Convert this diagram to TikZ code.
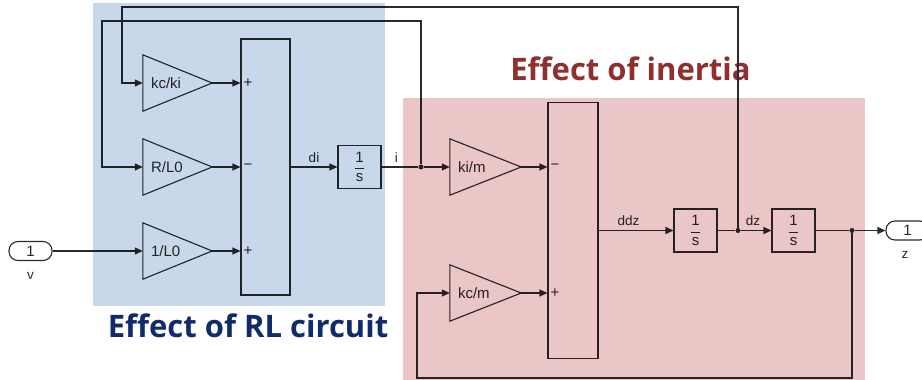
\documentclass[tikz,border=0pt]{standalone}
\usepackage{fontspec}
\setmainfont{Liberation Sans}
\newfontfamily\titlefont{Open Sans}
\usetikzlibrary{arrows.meta}
\definecolor{wirecol}{HTML}{2A2A2A}
\definecolor{bluefill}{HTML}{C8D8EA}
\definecolor{pinkfill}{HTML}{EAC6C6}
\definecolor{navytitle}{HTML}{102A6A}
\definecolor{redtitle}{HTML}{8F2F2F}
\newcommand{\oneovers}{$\displaystyle\frac{\hbox{1}\rule[-3pt]{0pt}{3pt}}{\hbox{\rule{0pt}{11pt}s}}$}
\begin{document}
\begin{tikzpicture}[x=1pt,y=-1pt,
  wire/.style={line width=1.1pt, draw=wirecol},
  sig/.style={wire,-{Triangle[length=8pt,width=7pt]}},
  smallfont/.style={font=\fontsize{13.5}{15}\selectfont, text=wirecol},
  blockfont/.style={font=\fontsize{15}{17}\selectfont, text=wirecol},
  gainbox/.style={blockfont,minimum width=69pt,minimum height=56pt,inner sep=0pt,text width=53pt,align=left},
  sumbox/.style={draw=wirecol,line width=1.1pt,minimum width=49pt,minimum height=256pt,inner sep=0pt},
  intbox/.style={draw=wirecol,line width=1.1pt,minimum width=43pt,minimum height=43pt,inner sep=0pt,blockfont},
  portbox/.style={draw=wirecol,line width=1.1pt,rounded corners=9pt,minimum width=43pt,minimum height=19pt,inner sep=0pt,blockfont},
  jdot/.style={circle,fill=wirecol,inner sep=0pt,minimum size=5pt},
  lab/.style={smallfont,inner sep=0pt},
  sign/.style={blockfont,inner sep=0pt},
  title/.style={font=\titlefont\bfseries\fontsize{31}{36}\selectfont,inner sep=0pt,anchor=base},
  region/.style={blend mode=multiply}
]
\useasboundingbox (0,0) rectangle (922,380);
\clip (0,0) rectangle (922,380);
\fill[white] (0,0) rectangle (922,380);

% titles
\node[title,text=navytitle] (trl) at (248,337) {Effect of RL circuit};
\node[title,text=redtitle] (tin) at (630.5,80) {Effect of inertia};

% blocks
\node[portbox] (vin) at (30.5,251) {1};
\node[lab] (vlab) at (30.5,276) {v};
\node[gainbox] (g1) at (177.5,83) {kc/ki};
\node[gainbox] (g2) at (177.5,167) {R/L0};
\node[gainbox] (g3) at (177.5,251) {1/L0};
\node[sumbox] (s1) at (265.5,167) {};
\node[intbox] (i1) at (359.5,167) {\oneovers};

\node[gainbox,minimum width=71pt,text width=55pt] (g4) at (485.5,167) {ki/m};
\node[gainbox,minimum width=71pt,text width=55pt] (g5) at (485.5,293) {kc/m};
\node[sumbox,minimum width=50pt] (s2) at (573,230.5) {};
\node[intbox] (i2) at (695.5,230.5) {\oneovers};
\node[intbox] (i3) at (793.5,230.5) {\oneovers};
\node[portbox] (zout) at (907.5,230.5) {1};
\node[lab] (zlab) at (905,255) {z};

\foreach \g in {g1,g2,g3,g4,g5}
  \draw[wire] (\g.north west) -- (\g.east) -- (\g.south west) -- cycle;

% sum signs
\node[sign,anchor=west,xshift=3pt] (p1) at (s1.west |- g1.east) {+};
\node[sign,anchor=west,xshift=3pt] (m1) at (s1.west |- g2.east) {\char"2212};
\node[sign,anchor=west,xshift=3pt] (p2) at (s1.west |- g3.east) {+};
\node[sign,anchor=west,xshift=3pt] (m2) at (s2.west |- g4.east) {\char"2212};
\node[sign,anchor=west,xshift=3pt] (p3) at (s2.west |- g5.east) {+};

% junctions
\node[jdot] (j1) at (421,167) {};
\node[jdot] (j2) at (738,230.5) {};
\node[jdot] (j3) at (852,230.5) {};
\coordinate (t1) at (122,7);
\coordinate (t2) at (102,21);
\coordinate (t3) at (417,378);

% connectors
\draw[sig] (vin.east) -- (g3.west);
\draw[sig] (g1.east) -- (s1.west |- g1.east);
\draw[sig] (g2.east) -- (s1.west |- g2.east);
\draw[sig] (g3.east) -- (s1.west |- g3.east);
\draw[sig] (s1.east) -- node[lab,above=4pt] {di} (i1.west);
\draw[wire] (i1.east) -- node[lab,above=4pt,pos=0.4] {i} (j1);
\draw[sig] (j1) -- (g4.west);
\draw[sig] (g4.east) -- (s2.west |- g4.east);
\draw[sig] (g5.east) -- (s2.west |- g5.east);
\draw[sig] (s2.east) -- node[lab,above=4pt,pos=0.4] {ddz} (i2.west);
\draw[wire] (i2.east) -- (j2);
\draw[sig] (j2) -- node[lab,above=4pt,pos=0.4] {dz} (i3.west);
\draw[wire] (i3.east) -- (j3);
\draw[sig] (j3) -- (zout.west);
\draw[sig] (j2) |- (t1) |- (g1.west);
\draw[sig] (j1) |- (t2) |- (g2.west);
\draw[sig] (j3) |- (t3) |- (g5.west);

% shaded regions
\fill[bluefill,region] (93,3) rectangle (385,306);
\fill[pinkfill,region] (403,98) rectangle (865,380);
\end{tikzpicture}
\end{document}
